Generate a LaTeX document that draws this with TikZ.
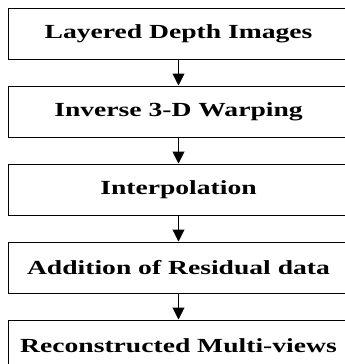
\documentclass[tikz,border=0pt]{standalone}
\usepackage{fontspec}
\newfontfamily\stepfont[FakeStretch=1.38]{Liberation Serif}
\usetikzlibrary{positioning, arrows.meta}

\begin{document}
\begin{tikzpicture}[x=1pt, y=1pt,
  stage/.style={draw, line width=1pt, minimum width=341pt, minimum height=51pt,
    inner sep=0pt, font=\stepfont\bfseries\fontsize{20}{20}\selectfont},
  flow/.style={-{Triangle[length=12pt, width=12pt]}, line width=1pt}]
\useasboundingbox (0,0) rectangle (345,-364);
 \node[stage] (ldi) at (178.5,-33.5) {Layered Depth Images};
 \node[stage, below=26pt of ldi] (warp) {Inverse 3-D Warping};
 \node[stage, below=26pt of warp] (interp) {Interpolation};
 \node[stage, below=26pt of interp] (resid) {Addition of Residual data};
 \node[stage, below=26pt of resid] (views) {Reconstructed Multi-views};
 \draw[flow] (ldi) -- (warp);
 \draw[flow] (warp) -- (interp);
 \draw[flow] (interp) -- (resid);
 \draw[flow] (resid) -- (views);
\end{tikzpicture}
\end{document}
